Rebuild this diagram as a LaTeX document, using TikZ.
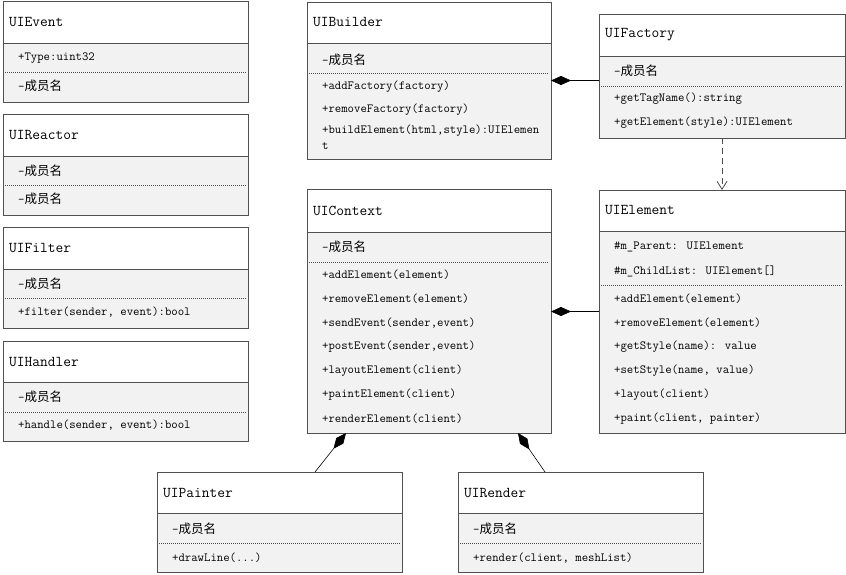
\documentclass[tikz,border=0pt]{standalone}
\usepackage{fontspec}
\newfontfamily\cjk{Noto Sans CJK SC}
\usetikzlibrary{arrows.meta,calc}
\definecolor{bodyc}{HTML}{F2F2F2}
\definecolor{edgec}{HTML}{505050}
\newcommand\cyname{-{\cjk\fontsize{12.5}{13}\selectfont 成员名}}
\newcommand\umlclass[8]{%
  \pgfmathsetmacro\uw{#4-#2}\pgfmathsetmacro\uh{#7-#3}%
  \fill[bodyc] (#2,#5) rectangle (#4,#7);
  \draw[sepline] (#2,#5) -- (#4,#5);
  \draw[dotline] (#2+2,#6) -- (#4-2,#6);
  \node[classbox, minimum width=\uw pt, minimum height=\uh pt, anchor=north west] (#1) at (#2,#3) {};
  \node[titletext] (#1-title) at (#2+6,{(#3+#5)/2}) {#8};
}
\tikzset{
  classbox/.style={draw=edgec, line width=1pt, inner sep=0pt, outer sep=0pt},
  sepline/.style={draw=edgec, line width=1pt},
  dotline/.style={draw=black!70, line width=0.6pt, dash pattern=on 1pt off 1pt},
  titletext/.style={anchor=west, inner sep=0pt, font=\ttfamily\fontsize{15}{16}\selectfont},
  member/.style={anchor=west, inner sep=0pt, font=\ttfamily\fontsize{12.4}{14}\selectfont},
  comp/.style={draw=black, line width=0.6pt, -{Diamond[length=20pt,width=9pt,fill=black]}},
  dep/.style={draw=black!70, line width=0.8pt, dash pattern=on 6pt off 4pt, -{Straight Barb[length=8pt,width=10pt,line width=0.8pt]}}
}
\begin{document}
\begin{tikzpicture}[x=1pt,y=-1pt]
\useasboundingbox (0,0) rectangle (846,574);
\fill[white] (0,0) rectangle (846,574);
% left column
\umlclass{evt}{3}{1}{248}{43}{72}{102}{UIEvent}
\node[member] (evt-a) at (18,58) {+Type:uint32};
\node[member] (evt-b) at (18,86) {\cyname};
\umlclass{rea}{3}{114}{248}{156}{185}{215}{UIReactor}
\node[member] (rea-a) at (18,171) {\cyname};
\node[member] (rea-b) at (18,199) {\cyname};
\umlclass{fil}{3}{227}{248}{269}{298}{328}{UIFilter}
\node[member] (fil-a) at (18,284) {\cyname};
\node[member] (fil-b) at (18,312) {+filter(sender, event):bool};
\umlclass{han}{3}{341}{248}{382}{412}{441}{UIHandler}
\node[member] (han-a) at (18,397) {\cyname};
\node[member] (han-b) at (18,425) {+handle(sender, event):bool};
% builder
\umlclass{bld}{307}{2}{551}{43}{73}{159}{UIBuilder}
\node[member] (bld-a) at (322,60) {\cyname};
\node[member] (bld-b) at (322,87) {+addFactory(factory)};
\node[member] (bld-c) at (322,110) {+removeFactory(factory)};
\node[member] (bld-d) at (322,131) {+buildElement(html,style):UIElemen};
\node[member] (bld-e) at (322,146) {t};
% factory
\umlclass{fac}{599}{14}{845}{56}{86}{138}{UIFactory}
\node[member] (fac-a) at (614,71) {\cyname};
\node[member] (fac-b) at (614,99) {+getTagName():string};
\node[member] (fac-c) at (614,123) {+getElement(style):UIElement};
% context
\umlclass{ctx}{307}{189}{551}{232}{262}{433}{UIContext}
\node[member] (ctx-a) at (322,247) {\cyname};
\node[member] (ctx-b) at (322,275) {+addElement(element)};
\node[member] (ctx-c) at (322,299) {+removeElement(element)};
\node[member] (ctx-d) at (322,323) {+sendEvent(sender,event)};
\node[member] (ctx-e) at (322,347) {+postEvent(sender,event)};
\node[member] (ctx-f) at (322,371) {+layoutElement(client)};
\node[member] (ctx-g) at (322,395) {+paintElement(client)};
\node[member] (ctx-h) at (322,419) {+renderElement(client)};
% element
\umlclass{elm}{599}{190}{845}{231}{285}{433}{UIElement}
\node[member] (elm-a) at (614,247) {\#m\_Parent: UIElement};
\node[member] (elm-b) at (614,271) {\#m\_ChildList: UIElement[]};
\node[member] (elm-c) at (614,299) {+addElement(element)};
\node[member] (elm-d) at (614,323) {+removeElement(element)};
\node[member] (elm-e) at (614,347) {+getStyle(name): value};
\node[member] (elm-f) at (614,371) {+setStyle(name, value)};
\node[member] (elm-g) at (614,395) {+layout(client)};
\node[member] (elm-h) at (614,419) {+paint(client, painter)};
% painter
\umlclass{pnt}{157}{472}{402}{513}{543}{572}{UIPainter}
\node[member] (pnt-a) at (172,529) {\cyname};
\node[member] (pnt-b) at (172,558) {+drawLine(...)};
% render
\umlclass{rnd}{458}{472}{703}{513}{543}{572}{UIRender}
\node[member] (rnd-a) at (473,529) {\cyname};
\node[member] (rnd-b) at (473,558) {+render(client, meshList)};
% connectors
\draw[comp] (fac.west |- bld.east) -- (bld.east);
\draw[comp] (elm.west) -- (elm.west -| ctx.east);
\draw[dep] (fac.south) -- (elm.north);
\coordinate (p1) at ($(pnt.north west)+(158,0)$);
\coordinate (p2) at ($(ctx.south west)+(39,0)$);
\draw[comp] (p1) -- (p2);
\coordinate (r1) at ($(rnd.north west)+(87,0)$);
\coordinate (r2) at ($(ctx.south east)+(-33,0)$);
\draw[comp] (r1) -- (r2);
\end{tikzpicture}
\end{document}
